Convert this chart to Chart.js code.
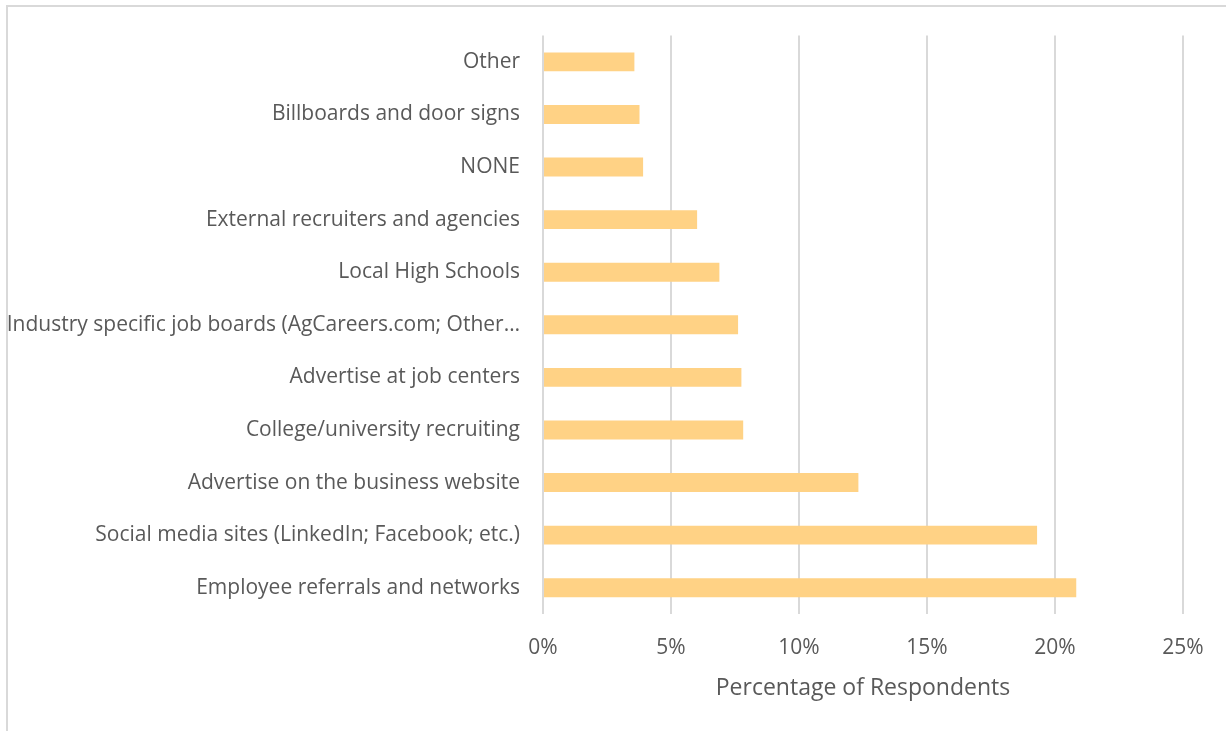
<!DOCTYPE html>
<html>
<head>
<meta charset="utf-8">
<script src="https://cdn.jsdelivr.net/npm/chart.js@4"></script>
<style>
  html, body { margin: 0; padding: 0; background: #fff; }
  #wrap { position: relative; width: 1226px; height: 731px; overflow: hidden; }
  #frame { position: absolute; left: 6px; top: 5px; width: 1240px; height: 740px;
           border-top: 2px solid #d9d9d9; border-left: 2px solid #d9d9d9; box-sizing: border-box; }
  canvas { position: absolute; left: 0; top: 0; }
</style>
</head>
<body>
<div id="wrap">
  <div id="frame"></div>
  <canvas id="chart" width="1226" height="731"></canvas>
</div>
<script>
// recruiting channels, top to bottom
const categories = [
    'Other',
    'Billboards and door signs',
    'NONE',
    'External recruiters and agencies',
    'Local High Schools',
    'Industry specific job boards (AgCareers.com; Other…',
    'Advertise at job centers',
    'College/university recruiting',
    'Advertise on the business website',
    'Social media sites (LinkedIn; Facebook; etc.)',
    'Employee referrals and networks'
];

// share of respondents, in percent
const respondentShare = [3.57, 3.77, 3.91, 6.02, 6.89, 7.62, 7.75, 7.82, 12.32, 19.30, 20.83];

const xTickValues = [0, 5, 10, 15, 20, 25];

const labelFont = { family: "'Open Sans', sans-serif", size: 21 };
const textColor = '#595959';

const ctx = document.getElementById('chart').getContext('2d');
const myChart = new Chart(ctx, {
    type: 'bar',
    data: {
        labels: categories,
        datasets: [{
            label: 'Percentage of Respondents',
            data: respondentShare,
            backgroundColor: '#ffd285',
            borderWidth: 0,
            categoryPercentage: 1.0,
            barPercentage: 0.36
        }]
    },
    options: {
        indexAxis: 'y',
        responsive: false,
        animation: false,
        layout: {
            padding: { left: 0, right: 43, top: 34, bottom: 0 }
        },
        plugins: {
            legend: { display: false },
            tooltip: { enabled: false }
        },
        scales: {
            x: {
                min: 0,
                max: 25,
                afterBuildTicks: (scale) => {
                    scale.ticks = xTickValues.map(v => ({ value: v }));
                },
                afterFit: (scale) => { scale.height = 117; },
                grid: {
                    color: '#d9d9d9',
                    lineWidth: 2,
                    drawTicks: false
                },
                border: { display: false },
                ticks: {
                    padding: 21,
                    color: textColor,
                    font: labelFont,
                    callback: (v) => v + '%'
                },
                title: {
                    display: true,
                    text: 'Percentage of Respondents',
                    color: textColor,
                    font: { family: "'Open Sans', sans-serif", size: 23 },
                    padding: { top: 6, bottom: 29 }
                }
            },
            y: {
                afterFit: (scale) => { scale.width = 543; },
                grid: { display: false, drawTicks: false },
                border: { display: false },
                ticks: {
                    padding: 23,
                    color: textColor,
                    font: labelFont,
                    autoSkip: false
                }
            }
        }
    }
});
</script>
</body>
</html>
